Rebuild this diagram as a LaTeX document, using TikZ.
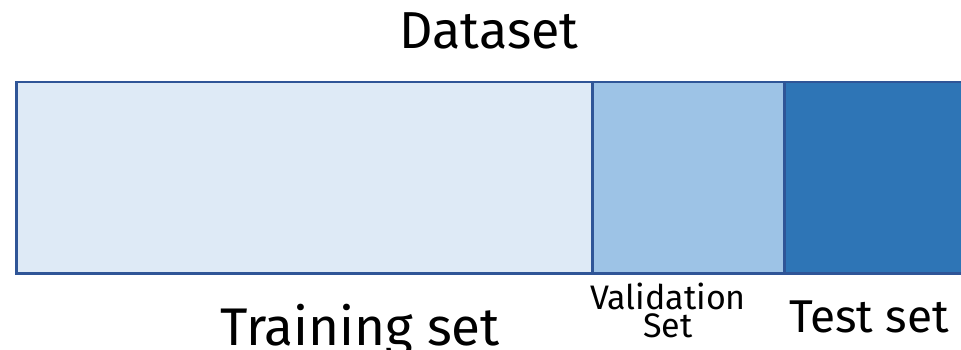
\documentclass[tikz,border=0pt]{standalone}
\usepackage{fontspec}
\setmainfont{Fira Sans}
\definecolor{edge}{HTML}{2F5597}
\definecolor{trainfill}{HTML}{DEEAF6}
\definecolor{valfill}{HTML}{9DC3E6}
\definecolor{testfill}{HTML}{2E75B6}
\tikzset{
  part/.style={draw=edge, line width=2.5pt, anchor=north west, inner sep=0pt, minimum height=191pt},
  label/.style={anchor=base, inner sep=0pt, text=black},
}
\begin{document}
\begin{tikzpicture}[x=1pt, y=-1pt]
  \useasboundingbox (0,0) rectangle (961,350);
  \clip (0,0) rectangle (961,350);
  % dataset split bar
  \node[part, fill=trainfill, minimum width=576pt] (train) at (15,81) {};
  \node[part, fill=valfill, minimum width=192pt] (val) at (591,81) {};
  \node[part, fill=testfill, minimum width=200pt] (test) at (783,81) {};
  % captions
  \node[label, font=\fontsize{52}{52}\selectfont] (title) at (489,49) {Dataset};
  \node[label, font=\fontsize{53}{53}\selectfont] (trainlbl) at (360,345) {Training set};
  \node[label, text depth=0pt, font=\fontsize{34}{34}\selectfont] (vallbl1) at (668,309) {Validation};
  \node[label, text height=24pt, font=\fontsize{34}{34}\selectfont] (vallbl2) at (668,337) {Set};
  \node[label, font=\fontsize{46}{46}\selectfont] (testlbl) at (869,332) {Test set};
\end{tikzpicture}
\end{document}
